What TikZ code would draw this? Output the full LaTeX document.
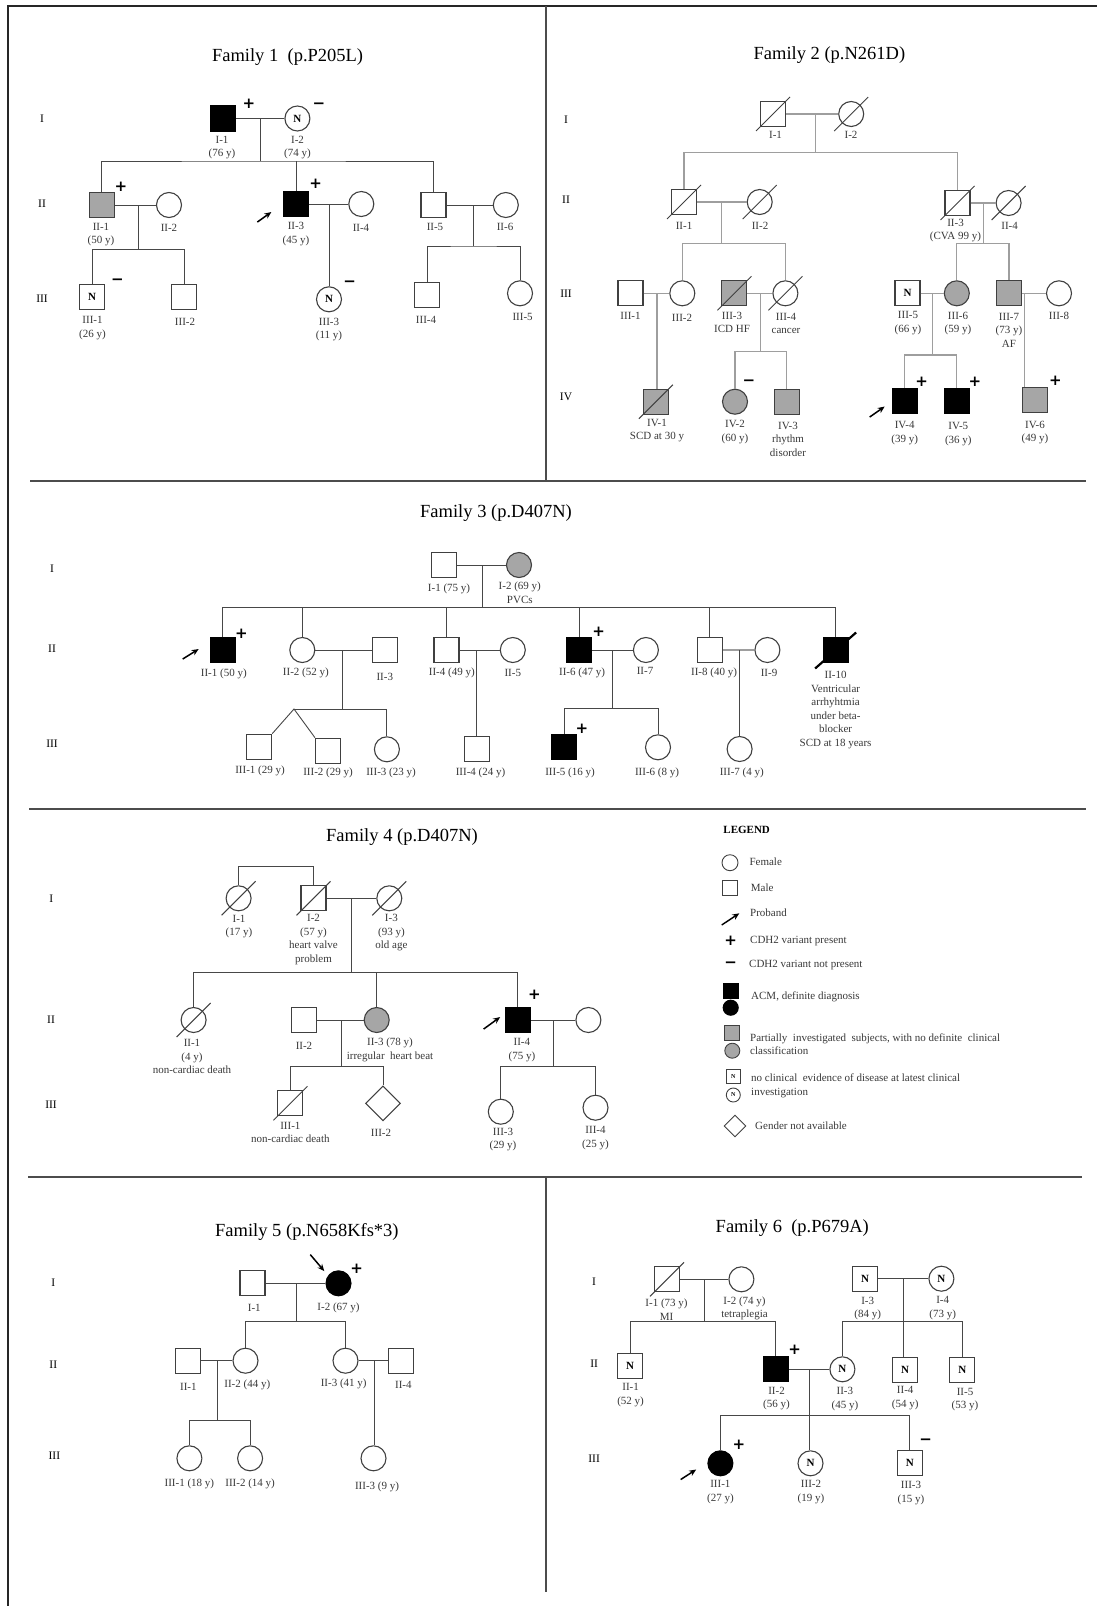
\documentclass[tikz,border=0pt]{standalone}
\usepackage{fontspec}
\setmainfont{Liberation Serif}
\newfontfamily\signfont{DejaVu Sans}
\usepackage{tikz}
\usetikzlibrary{arrows.meta,shapes.geometric}

\definecolor{symline}{gray}{0.25}
\definecolor{pedline}{gray}{0.28}
\definecolor{paleline}{gray}{0.62}
\definecolor{partial}{gray}{0.65}
\definecolor{labtext}{gray}{0.22}

\tikzset{
  ind/.style={draw=symline, line width=1.1pt, minimum size=25pt, inner sep=0pt,
    font=\bfseries\fontsize{11}{11}\selectfont},
  male/.style={ind, rectangle},
  female/.style={ind, circle},
  nosex/.style={ind, diamond, minimum size=35pt},
  acm/.style={fill=black, draw=black},
  part/.style={fill=partial},
  ped/.style={draw=pedline, line width=0.9pt},
  pale/.style={draw=paleline, line width=1.1pt},
  lab/.style={font=\fontsize{11}{13.5}\selectfont, text=labtext, align=center, inner sep=0pt},
  leg/.style={font=\fontsize{11}{13.5}\selectfont, text=labtext, align=left, inner sep=0pt, anchor=west},
  gen/.style={font=\fontsize{11.5}{13}\selectfont, inner sep=0pt},
  title/.style={font=\fontsize{18.5}{20}\selectfont, inner sep=0pt},
  sign/.style={font=\signfont\bfseries\fontsize{15}{15}\selectfont, inner sep=0pt},
  prob/.style={-{Stealth[length=7pt,width=6pt]}, line width=1.5pt},
  dead/.style={draw=symline, line width=1pt},
  divider/.style={draw=black!70, line width=1.3pt},
  frame/.style={draw=black!85, line width=2.2pt}
}
\newcommand{\deadmark}[1]{\draw[dead] (#1.center) ++(-17,17) -- ++(34,-34);}

\begin{document}
\begin{tikzpicture}[x=1pt,y=-1pt]
    \useasboundingbox (0,0) rectangle (1097,1606);

    % Frame and panel dividers
    \draw[frame] (1097,6) -- (8,6) -- (8,1606);
    \draw[divider] (546,6) -- (546,481);
    \draw[divider] (30,481) -- (1086,481);
    \draw[divider] (29,809) -- (1086,809);
    \draw[divider] (28,1177) -- (1082,1177);
    \draw[divider] (546,1177) -- (546,1592);

    % ================= Family 1 =================
    \node[title] (t1) at (287.6,56.7) {Family 1\ \ (p.P205L)};
    \node[gen] (g1a) at (42,118.3) {I};
    \node[gen] (g1b) at (42,203.3) {II};
    \node[gen] (g1c) at (42,298.3) {III};

    % generation I
    \node[male,acm] (f1i1) at (223,118.5) {};
    \node[female] (f1i2) at (297.4,118.5) {N};
    \node[sign] (f1i1s) at (249,104) {+};
    \node[sign] (f1i2s) at (319,106) {−};
    \node[lab] (f1i1t) at (222,147.5) {I-1\\(76 y)};
    \node[lab] (f1i2t) at (297.5,147.5) {I-2\\(74 y)};

    % generation II
    \node[male,part] (f1ii1) at (101.7,205) {};
    \node[female] (f1ii2) at (169,205) {};
    \node[male,acm] (f1ii3) at (296.4,204) {};
    \node[female] (f1ii4) at (361.3,204) {};
    \node[male] (f1ii5) at (433.5,205) {};
    \node[female] (f1ii6) at (505.8,205) {};
    \node[sign] (f1ii1s) at (121,186.7) {+};
    \node[sign] (f1ii3s) at (315.7,184) {+};
    \draw[prob] (f1ii3.south west) ++(-26,5) -- ++(14,-10);
    \node[lab] (f1ii1t) at (101,234.7) {II-1\\(50 y)};
    \node[lab] (f1ii2t) at (169,228.3) {II-2};
    \node[lab] (f1ii3t) at (296,234) {II-3\\(45 y)};
    \node[lab] (f1ii4t) at (361,228) {II-4};
    \node[lab] (f1ii5t) at (435,227.3) {II-5};
    \node[lab] (f1ii6t) at (505,227.3) {II-6};

    % generation III
    \node[male] (f1iii1) at (92.2,296.7) {N};
    \node[male] (f1iii2) at (184,296.7) {};
    \node[female] (f1iii3) at (329,299.3) {N};
    \node[male] (f1iii4) at (427,295) {};
    \node[female] (f1iii5) at (520,293.3) {};
    \node[sign] (f1iii1s) at (117.5,281.7) {−};
    \node[sign] (f1iii3s) at (349.7,283.3) {−};
    \node[lab] (f1iii1t) at (92.5,328.3) {III-1\\(26 y)};
    \node[lab] (f1iii2t) at (185,321.7) {III-2};
    \node[lab] (f1iii3t) at (329,329.3) {III-3\\(11 y)};
    \node[lab] (f1iii4t) at (426,320) {III-4};
    \node[lab] (f1iii5t) at (522.6,317.3) {III-5};

    % lines of descent
    \coordinate (f1m1) at (260,118.5);
    \coordinate (f1s1) at (260,161);
    \draw[ped] (f1i1) -- (f1i2);
    \draw[ped] (f1m1) -- (f1s1);
    \draw[ped] (f1ii1.north) |- (f1s1) -| (f1ii5.north);
    \draw[ped] (f1ii3.north) -- (f1ii3.north |- f1s1);
    \coordinate (f1m2) at (138.5,205);
    \coordinate (f1s2) at (138.5,249.3);
    \draw[ped] (f1ii1) -- (f1ii2);
    \draw[ped] (f1m2) -- (f1s2);
    \draw[ped] (f1iii1.north) |- (f1s2) -| (f1iii2.north);
    \draw[ped] (f1ii3) -- (f1ii4);
    \draw[ped] (f1ii3.east -| f1iii3) -- (f1iii3.north);
    \coordinate (f1m3) at (473.5,205);
    \coordinate (f1s3) at (473.5,246);
    \draw[ped] (f1ii5) -- (f1ii6);
    \draw[ped] (f1m3) -- (f1s3);
    \draw[ped] (f1iii4.north) |- (f1s3) -| (f1iii5.north);

    % ================= Family 2 =================
    \node[title] (t2) at (829.4,55) {Family 2 (p.N261D)};
    \node[gen] (g2a) at (566,120) {I};
    \node[gen] (g2b) at (566,200) {II};
    \node[gen] (g2c) at (566,294) {III};
    \node[gen] (g2d) at (566,396.7) {IV};

    % generation I
    \node[male] (f2i1) at (773,114) {};
    \node[female] (f2i2) at (851.2,114) {};
    \deadmark{f2i1}
    \deadmark{f2i2}
    \node[lab] (f2i1t) at (775.5,135) {I-1};
    \node[lab] (f2i2t) at (851,135) {I-2};

    % generation II
    \node[male] (f2ii1) at (684,202) {};
    \node[female] (f2ii2) at (759.7,202) {};
    \node[male] (f2ii3) at (957.5,203) {};
    \node[female] (f2ii4) at (1008.6,203) {};
    \deadmark{f2ii1}
    \deadmark{f2ii2}
    \deadmark{f2ii3}
    \deadmark{f2ii4}
    \node[lab] (f2ii1t) at (684,226) {II-1};
    \node[lab] (f2ii2t) at (760,226) {II-2};
    \node[lab] (f2ii3t) at (955.5,230.7) {II-3\\(CVA 99 y)};
    \node[lab] (f2ii4t) at (1009.6,226) {II-4};

    % generation III
    \node[male] (f2iii1) at (630.5,293.3) {};
    \node[female] (f2iii2) at (682.3,293.3) {};
    \node[male,part] (f2iii3) at (734.4,293.3) {};
    \node[female] (f2iii4) at (785.4,293.3) {};
    \node[male] (f2iii5) at (907.5,293.3) {N};
    \node[female,part] (f2iii6) at (956.8,293.3) {};
    \node[male,part] (f2iii7) at (1009,293.3) {};
    \node[female] (f2iii8) at (1059,293.3) {};
    \deadmark{f2iii3}
    \deadmark{f2iii4}
    \node[lab] (f2iii1t) at (630.5,316) {III-1};
    \node[lab] (f2iii2t) at (682,318.3) {III-2};
    \node[lab] (f2iii3t) at (732,322.5) {III-3\\ICD HF};
    \node[lab] (f2iii4t) at (786,323.3) {III-4\\cancer};
    \node[lab] (f2iii5t) at (908,323) {III-5\\(66 y)};
    \node[lab] (f2iii6t) at (958,323.3) {III-6\\(59 y)};
    \node[lab] (f2iii7t) at (1009,330.3) {III-7\\(73 y)\\AF};
    \node[lab] (f2iii8t) at (1059,316) {III-8};

    % generation IV
    \node[male,part] (f2iv1) at (655.9,401.7) {};
    \node[female,part] (f2iv2) at (735,401.7) {};
    \node[male,part] (f2iv3) at (786.8,401.7) {};
    \node[male,acm] (f2iv4) at (904.7,401) {};
    \node[male,acm] (f2iv5) at (956.8,401) {};
    \node[male,part] (f2iv6) at (1035,400) {};
    \deadmark{f2iv1}
    \node[sign] (f2iv2s) at (749,382.7) {−};
    \node[sign] (f2iv4s) at (921.6,381.7) {+};
    \node[sign] (f2iv5s) at (975,381.7) {+};
    \node[sign] (f2iv6s) at (1055.4,380.7) {+};
    \draw[prob] (f2iv4.south west) ++(-22,3) -- ++(15,-10.5);
    \node[lab] (f2iv1t) at (657,430.7) {IV-1\\SCD at 30 y};
    \node[lab] (f2iv2t) at (735,432.2) {IV-2\\(60 y)};
    \node[lab] (f2iv3t) at (788,439) {IV-3\\rhythm\\disorder};
    \node[lab] (f2iv4t) at (904.7,432.9) {IV-4\\(39 y)};
    \node[lab] (f2iv5t) at (958.3,434.2) {IV-5\\(36 y)};
    \node[lab] (f2iv6t) at (1035,432.7) {IV-6\\(49 y)};

    % lines of descent
    \coordinate (f2m1) at (815.3,114);
    \coordinate (f2s1) at (815.3,152.3);
    \draw[pale] (f2i1) -- (f2i2);
    \draw[pale] (f2m1) -- (f2s1);
    \draw[pale] (f2ii1.north) |- (f2s1) -| (f2ii3.north);
    \coordinate (f2m2) at (721.7,202);
    \coordinate (f2s2) at (721.7,243.3);
    \draw[pale] (f2ii1) -- (f2ii2);
    \draw[pale] (f2m2) -- (f2s2);
    \draw[pale] (f2iii2.north) |- (f2s2) -| (f2iii4.north);
    \coordinate (f2m3) at (983.2,203);
    \coordinate (f2s3) at (983.2,243.3);
    \draw[pale] (f2ii3) -- (f2ii4);
    \draw[pale] (f2m3) -- (f2s3);
    \draw[pale] (f2iii6.north) |- (f2s3) -| (f2iii7.north);
    \coordinate (f2m4) at (657,293.3);
    \draw[pale] (f2iii1) -- (f2iii2);
    \draw[pale] (f2m4) -- (f2m4 |- f2iv1.north);
    \coordinate (f2m5) at (760.4,293.3);
    \coordinate (f2s5) at (760.4,351.7);
    \draw[pale] (f2iii3) -- (f2iii4);
    \draw[pale] (f2m5) -- (f2s5);
    \draw[pale] (f2iv2.north) |- (f2s5) -| (f2iv3.north);
    \coordinate (f2m6) at (932.2,293.3);
    \coordinate (f2s6) at (932.2,355);
    \draw[pale] (f2iii5) -- (f2iii6);
    \draw[pale] (f2m6) -- (f2s6);
    \draw[pale] (f2iv4.north) |- (f2s6) -| (f2iv5.north);
    \coordinate (f2m7) at (1024.4,293.3);
    \draw[pale] (f2iii7) -- (f2iii8);
    \draw[pale] (f2m7) -- (f2m7 |- f2iv6.north);

    % ================= Family 3 =================
    \node[title] (t3) at (496,513.3) {Family 3 (p.D407N)};
    \node[gen] (g3a) at (52,568.3) {I};
    \node[gen] (g3b) at (52,648.3) {II};
    \node[gen] (g3c) at (52,743.3) {III};

    % generation I
    \node[male] (f3i1) at (443.7,565) {};
    \node[female,part] (f3i2) at (519,565) {};
    \node[lab] (f3i1t) at (449,589.3) {I-1 (75 y)};
    \node[lab] (f3i2t) at (519.8,593) {I-2 (69 y)\\PVCs};

    % generation II
    \node[male,acm] (f3ii1) at (222.7,650) {};
    \node[female] (f3ii2) at (302.3,650) {};
    \node[male] (f3ii3) at (384.8,650) {};
    \node[male] (f3ii4) at (446.5,650) {};
    \node[female] (f3ii5) at (512.8,650) {};
    \node[male,acm] (f3ii6) at (579,650) {};
    \node[female] (f3ii7) at (645.9,650) {};
    \node[male] (f3ii8) at (709.8,650) {};
    \node[female] (f3ii9) at (767.4,650) {};
    \node[male,acm] (f3ii10) at (835.6,650) {};
    \draw[dead, draw=black, line width=2.2pt] (f3ii10.center) ++(-20.5,18.5) -- ++(41,-36);
    \node[sign] (f3ii1s) at (241.3,633.3) {+};
    \node[sign] (f3ii6s) at (598.6,631.7) {+};
    \draw[prob] (f3ii1.south west) ++(-27,-4) -- ++(16,-10);
    \node[lab] (f3ii1t) at (223.8,674) {II-1 (50 y)};
    \node[lab] (f3ii2t) at (305.9,672.7) {II-2 (52 y)};
    \node[lab] (f3ii3t) at (384.8,676.7) {II-3};
    \node[lab] (f3ii4t) at (451.8,673.3) {II-4 (49 y)};
    \node[lab] (f3ii5t) at (512.8,672.7) {II-5};
    \node[lab] (f3ii6t) at (582,672.7) {II-6 (47 y)};
    \node[lab] (f3ii7t) at (645,670.7) {II-7};
    \node[lab] (f3ii8t) at (714,672.7) {II-8 (40 y)};
    \node[lab] (f3ii9t) at (769,672.7) {II-9};
    \node[lab] (f3ii10t) at (835.6,710) {II-10\\Ventricular\\arrhyhtmia\\under beta-\\blocker\\SCD at 18 years};

    % generation III
    \node[male] (f3iii1) at (259.2,746.7) {};
    \node[male] (f3iii2) at (328,750.7) {};
    \node[female] (f3iii3) at (386.9,749.3) {};
    \node[male] (f3iii4) at (477,749.3) {};
    \node[male,acm] (f3iii5) at (564,746.7) {};
    \node[female] (f3iii6) at (658,747.3) {};
    \node[female] (f3iii7) at (739.6,749) {};
    \node[sign] (f3iii5s) at (582,728.3) {+};
    \node[lab] (f3iii1t) at (260,771) {III-1 (29 y)};
    \node[lab] (f3iii2t) at (328,772.7) {III-2 (29 y)};
    \node[lab] (f3iii3t) at (391,772.7) {III-3 (23 y)};
    \node[lab] (f3iii4t) at (480.5,772.7) {III-4 (24 y)};
    \node[lab] (f3iii5t) at (570,772.7) {III-5 (16 y)};
    \node[lab] (f3iii6t) at (657,772.7) {III-6 (8 y)};
    \node[lab] (f3iii7t) at (741.8,773.3) {III-7 (4 y)};

    % lines of descent
    \coordinate (f3m1) at (482.3,565);
    \coordinate (f3s1) at (482.3,607.7);
    \draw[ped] (f3i1) -- (f3i2);
    \draw[ped] (f3m1) -- (f3s1);
    \draw[ped] (f3ii1.north) |- (f3s1) -| (f3ii10.north);
    \foreach \k in {2,4,6,8}
        \draw[ped] (f3ii\k.north) -- (f3ii\k.north |- f3s1);
    \coordinate (f3m2) at (342.7,650);
    \coordinate (f3s2) at (342.7,709);
    \coordinate (f3tw) at (294,709);
    \draw[ped] (f3ii2) -- (f3ii3);
    \draw[ped] (f3m2) -- (f3s2);
    \draw[ped] (f3tw) -| (f3iii3.north);
    \draw[ped] (f3iii1.north east) -- (f3tw) -- (f3iii2.north west);
    \coordinate (f3m3) at (476.3,650);
    \draw[ped] (f3ii4) -- (f3ii5);
    \draw[ped] (f3m3) -- (f3m3 |- f3iii4.north);
    \coordinate (f3m4) at (612.8,650);
    \coordinate (f3s4) at (612.8,708.3);
    \draw[ped] (f3ii6) -- (f3ii7);
    \draw[ped] (f3m4) -- (f3s4);
    \draw[ped] (f3iii5.north) |- (f3s4) -| (f3iii6.north);
    \coordinate (f3m5) at (739.6,650);
    \draw[pale] (f3ii8) -- (f3ii9);
    \draw[ped] (f3m5) -- (f3iii7.north);

    % ================= Family 4 =================
    \node[title] (t4) at (402,836.7) {Family 4 (p.D407N)};
    \node[gen] (g4a) at (51.3,898.3) {I};
    \node[gen] (g4b) at (51,1020) {II};
    \node[gen] (g4c) at (51,1105) {III};

    % generation I
    \node[female] (f4i1) at (238.6,898.3) {};
    \node[male] (f4i2) at (313.5,898.3) {};
    \node[female] (f4i3) at (389.3,898.3) {};
    \deadmark{f4i1}
    \deadmark{f4i2}
    \deadmark{f4i3}
    \node[lab] (f4i1t) at (239,926.3) {I-1\\(17 y)};
    \node[lab] (f4i2t) at (313.5,939.7) {I-2\\(57 y)\\heart valve\\problem};
    \node[lab] (f4i3t) at (391.4,933) {I-3\\(93 y)\\old age};

    % generation II
    \node[female] (f4ii1) at (193.6,1020) {};
    \node[male] (f4ii2) at (303.9,1020) {};
    \node[female,part] (f4ii3) at (376.7,1020) {};
    \node[male,acm] (f4ii4) at (517.7,1020) {};
    \node[female] (f4ii5) at (588.4,1020) {};
    \deadmark{f4ii1}
    \node[sign] (f4ii4s) at (534.5,995) {+};
    \draw[prob] (f4ii4.south west) ++(-21,-4) -- ++(16.5,-12);
    \node[lab] (f4ii1t) at (192,1056.7) {II-1\\(4 y)\\non-cardiac death};
    \node[lab] (f4ii2t) at (304,1046) {II-2};
    \node[lab] (f4ii3t) at (390,1050) {II-3 (78 y)\\irregular\ \ heart beat};
    \node[lab] (f4ii4t) at (521.9,1050) {II-4\\(75 y)};

    % generation III
    \node[male] (f4iii1) at (290.4,1103.3) {};
    \node[nosex] (f4iii2) at (383,1103.3) {};
    \node[female] (f4iii3) at (500.8,1111.7) {};
    \node[female] (f4iii4) at (595.5,1107.7) {};
    \deadmark{f4iii1}
    \node[lab] (f4iii1t) at (290.4,1132.5) {III-1\\non-cardiac death};
    \node[lab] (f4iii2t) at (381,1132.7) {III-2};
    \node[lab] (f4iii3t) at (503,1139.7) {III-3\\(29 y)};
    \node[lab] (f4iii4t) at (595.5,1138.3) {III-4\\(25 y)};

    % lines of descent
    \coordinate (f4top) at (275,866.7);
    \draw[ped] (f4i1.north) |- (f4top -| f4i2.north) -- (f4i2.north);
    \coordinate (f4m1) at (351.4,898.3);
    \coordinate (f4s1) at (351.4,972.3);
    \draw[ped] (f4i2) -- (f4i3);
    \draw[ped] (f4m1) -- (f4s1);
    \draw[ped] (f4ii1.north) |- (f4s1) -| (f4ii4.north);
    \draw[ped] (f4ii3.north) -- (f4ii3.north |- f4s1);
    \coordinate (f4m2) at (341,1020);
    \coordinate (f4s2) at (341,1066.7);
    \draw[ped] (f4ii2) -- (f4ii3);
    \draw[ped] (f4m2) -- (f4s2);
    \draw[ped] (f4iii1.north) |- (f4s2) -| (f4iii2.north);
    \coordinate (f4m3) at (553.5,1020);
    \coordinate (f4s3) at (553.5,1066);
    \draw[ped] (f4ii4) -- (f4ii5);
    \draw[ped] (f4m3) -- (f4s3);
    \draw[ped] (f4iii3.north) |- (f4s3) -| (f4iii4.north);

    % ================= Legend =================
    \node[font=\bfseries\fontsize{11}{13}\selectfont, inner sep=0pt] (lgt) at (746.7,830) {LEGEND};
    \node[female, minimum size=16pt, line width=0.9pt] (lgf) at (730,862.7) {};
    \node[male, minimum size=15pt, line width=0.9pt] (lgm) at (730,888.3) {};
    \coordinate (lgp) at (721.7,925);
    \draw[prob, line width=1.4pt] (lgp) -- ++(17.6,-11.7);
    \node[sign] (lgplus) at (730.7,940.7) {+};
    \node[sign] (lgminus) at (730.7,965) {−};
    \node[male, acm, minimum size=15pt] (lgas) at (730.7,990.7) {};
    \node[female, acm, minimum size=15pt] (lgac) at (730.7,1007.7) {};
    \node[male, part, minimum size=15pt, line width=0.9pt] (lgps) at (732.3,1032.7) {};
    \node[female, part, minimum size=15pt, line width=0.9pt] (lgpc) at (732.3,1050.7) {};
    \node[male, minimum size=14pt, line width=0.9pt, font=\bfseries\fontsize{6}{6}\selectfont] (lgns) at (733.3,1076.7) {N};
    \node[female, minimum size=14pt, line width=0.9pt, font=\bfseries\fontsize{6}{6}\selectfont] (lgnc) at (733.3,1095) {N};
    \node[nosex, minimum size=22pt, line width=0.9pt] (lgd) at (735,1126) {};
    \node[leg] (lgft) at (749.3,861.7) {Female};
    \node[leg] (lgmt) at (750.7,887.7) {Male};
    \node[leg] (lgpt) at (750,912.3) {Proband};
    \node[leg] (lgplt) at (750,940.7) {CDH2 variant present};
    \node[leg] (lgmit) at (749,965) {CDH2 variant not present};
    \node[leg] (lgat) at (751,997.3) {ACM, definite diagnosis};
    \node[leg] (lgpat) at (750,1044) {Partially\ \ investigated\ \ subjects,\ with no definite\ \ clinical\\classification};
    \node[leg] (lgnt) at (751,1085.8) {no clinical\ \ evidence of disease at latest clinical\\investigation};
    \node[leg] (lgdt) at (755,1126) {Gender not available};

    % ================= Family 5 =================
    \node[title] (t5) at (306.9,1231.7) {Family 5 (p.N658Kfs*3)};
    \node[gen] (g5a) at (53.3,1282.7) {I};
    \node[gen] (g5b) at (53.3,1365) {II};
    \node[gen] (g5c) at (54.4,1456) {III};

    \node[male] (f5i1) at (252.5,1283.3) {};
    \node[female,acm] (f5i2) at (338.5,1283.3) {};
    \node[sign] (f5i2s) at (356.7,1268.3) {+};
    \draw[prob] (f5i2.north west) ++(-19,-19.5) -- ++(14,16.5);
    \node[lab] (f5i1t) at (254.3,1308.3) {I-1};
    \node[lab] (f5i2t) at (338.5,1308.3) {I-2 (67 y)};

    \node[male] (f5ii1) at (188.4,1360.7) {};
    \node[female] (f5ii2) at (245.5,1360.7) {};
    \node[female] (f5ii3) at (345.5,1360.7) {};
    \node[male] (f5ii4) at (400.9,1360.7) {};
    \node[lab] (f5ii1t) at (188.4,1386.7) {II-1};
    \node[lab] (f5ii2t) at (247.3,1385) {II-2 (44 y)};
    \node[lab] (f5ii3t) at (343.7,1384) {II-3 (41 y)};
    \node[lab] (f5ii4t) at (403.4,1385) {II-4};

    \node[female] (f5iii1) at (189.4,1458.3) {};
    \node[female] (f5iii2) at (250.1,1458.3) {};
    \node[female] (f5iii3) at (373.5,1458.3) {};
    \node[lab] (f5iii1t) at (189.4,1484) {III-1 (18 y)};
    \node[lab] (f5iii2t) at (250.1,1484) {III-2 (14 y)};
    \node[lab] (f5iii3t) at (377,1486.7) {III-3 (9 y)};

    \coordinate (f5m1) at (296.4,1283.3);
    \coordinate (f5s1) at (296.4,1321.7);
    \draw[ped] (f5i1) -- (f5i2);
    \draw[ped] (f5m1) -- (f5s1);
    \draw[ped] (f5ii2.north) |- (f5s1) -| (f5ii3.north);
    \coordinate (f5m2) at (217.5,1360.7);
    \coordinate (f5s2) at (217.5,1420);
    \draw[ped] (f5ii1) -- (f5ii2);
    \draw[ped] (f5m2) -- (f5s2);
    \draw[ped] (f5iii1.north) |- (f5s2) -| (f5iii2.north);
    \coordinate (f5m3) at (374.3,1360.7);
    \draw[ped] (f5ii3) -- (f5ii4);
    \draw[ped] (f5m3) -- (f5m3 |- f5iii3.north);

    % ================= Family 6 =================
    \node[title] (t6) at (792.3,1228.3) {Family 6\ \ (p.P679A)};
    \node[gen] (g6a) at (594.1,1281.7) {I};
    \node[gen] (g6b) at (594.1,1363.3) {II};
    \node[gen] (g6c) at (594.1,1458.3) {III};

    \node[male] (f6i1) at (667,1279.3) {};
    \node[female] (f6i2) at (741.4,1279.3) {};
    \node[male] (f6i3) at (865.2,1278.7) {N};
    \node[female] (f6i4) at (941.4,1278.7) {N};
    \deadmark{f6i1}
    \node[lab] (f6i1t) at (666.5,1309.7) {I-1 (73 y)\\MI};
    \node[lab] (f6i2t) at (744.5,1308.3) {I-2 (74 y)\\tetraplegia};
    \node[lab] (f6i3t) at (867.7,1308.3) {I-3\\(84 y)};
    \node[lab] (f6i4t) at (942.7,1308.3) {I-4\\(73 y)};

    \node[male] (f6ii1) at (630.2,1366) {N};
    \node[male,acm] (f6ii2) at (775.8,1369.3) {};
    \node[female] (f6ii3) at (842.4,1369.3) {N};
    \node[male] (f6ii4) at (905.2,1370) {N};
    \node[male] (f6ii5) at (962.4,1370) {N};
    \node[sign] (f6ii2s) at (794.7,1350) {+};
    \node[lab] (f6ii1t) at (630.6,1395) {II-1\\(52 y)};
    \node[lab] (f6ii2t) at (776.5,1398.3) {II-2\\(56 y)};
    \node[lab] (f6ii3t) at (844.9,1398.8) {II-3\\(45 y)};
    \node[lab] (f6ii4t) at (905.2,1397.8) {II-4\\(54 y)};
    \node[lab] (f6ii5t) at (965,1399.7) {II-5\\(53 y)};

    \node[female,acm] (f6iii1) at (720.4,1463.3) {};
    \node[female] (f6iii2) at (810.5,1463.3) {N};
    \node[male] (f6iii3) at (909.8,1463.3) {N};
    \node[sign] (f6iii1s) at (739,1445) {+};
    \node[sign] (f6iii3s) at (925.6,1441.7) {−};
    \draw[prob] (f6iii1.south west) ++(-30.5,7) -- ++(15.5,-10);
    \node[lab] (f6iii1t) at (720.4,1492.2) {III-1\\(27 y)};
    \node[lab] (f6iii2t) at (811,1492.2) {III-2\\(19 y)};
    \node[lab] (f6iii3t) at (911,1493) {III-3\\(15 y)};

    \coordinate (f6m1) at (704.6,1279.3);
    \coordinate (f6s1) at (704.6,1321.7);
    \draw[ped] (f6i1) -- (f6i2);
    \draw[ped] (f6m1) -- (f6s1);
    \draw[ped] (f6ii1.north) |- (f6s1) -| (f6ii2.north);
    \coordinate (f6m2) at (903.8,1278.7);
    \coordinate (f6s2) at (903.8,1321.7);
    \draw[ped] (f6i3) -- (f6i4);
    \draw[ped] (f6m2) -- (f6m2 |- f6ii4.north);
    \draw[ped] (f6ii3.north) |- (f6s2) -| (f6ii5.north);
    \coordinate (f6m3) at (809.8,1369.3);
    \coordinate (f6s3) at (809.8,1415.7);
    \draw[ped] (f6ii2) -- (f6ii3);
    \draw[ped] (f6m3) -- (f6m3 |- f6iii2.north);
    \draw[ped] (f6iii1.north) |- (f6s3) -| (f6iii3.north);
\end{tikzpicture}
\end{document}
